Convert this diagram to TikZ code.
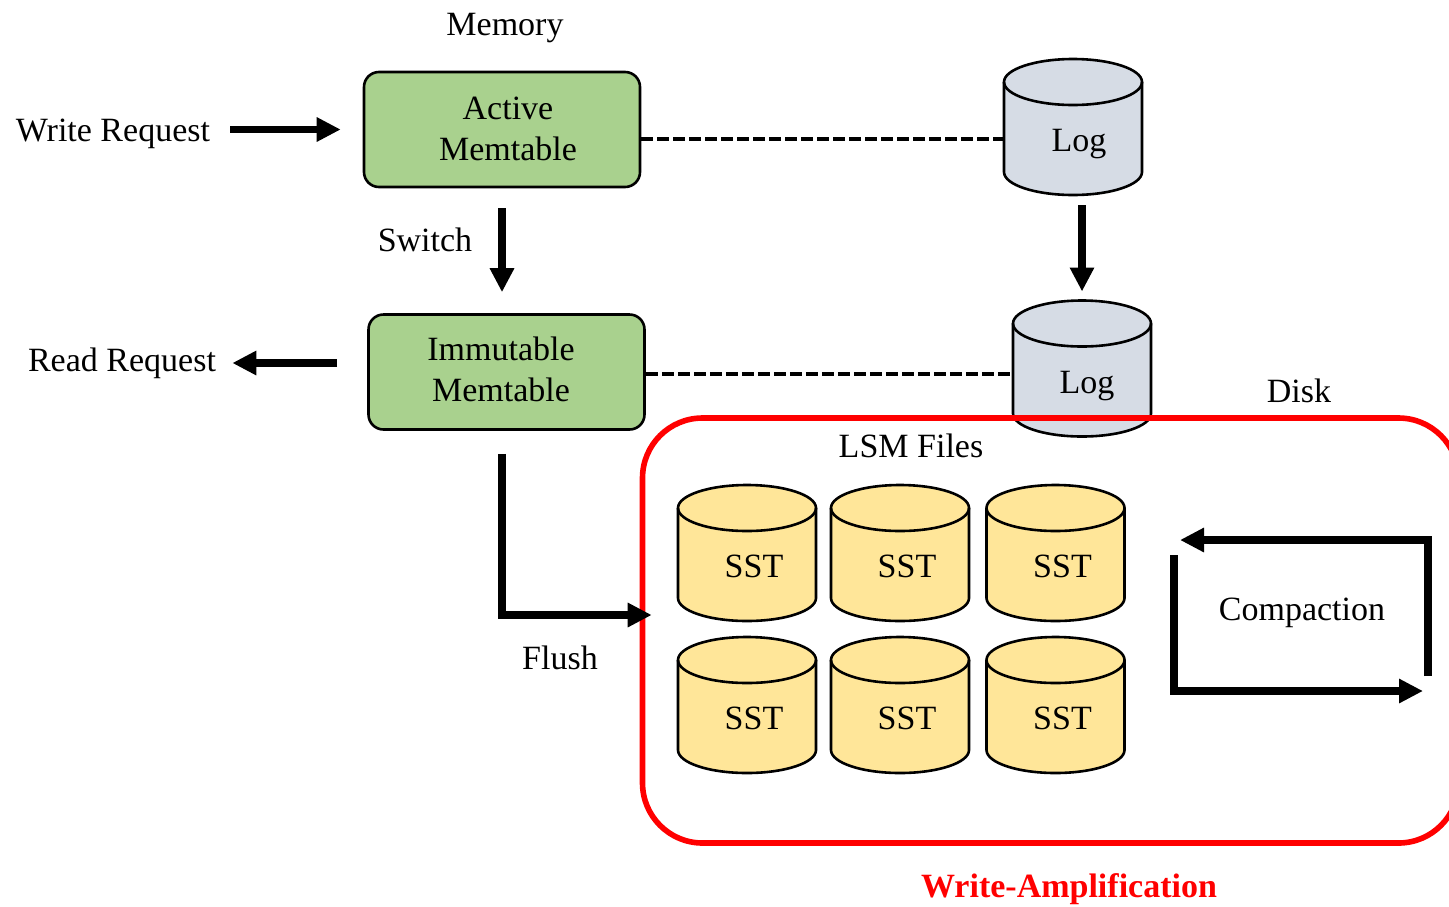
\documentclass[tikz,border=0pt]{standalone}
\usepackage{fontspec}
\setmainfont{Liberation Serif}
\usetikzlibrary{arrows.meta,calc}

\definecolor{memgreen}{HTML}{A9D18E}
\definecolor{loggray}{HTML}{D6DCE5}
\definecolor{sstyellow}{HTML}{FFE699}
\definecolor{ampred}{HTML}{FF0000}

% Outline of a drum shape around an invisible rectangular node #1, filled with #2
\newcommand\drumoutline[2]{%
  \path[fill=#2, draw=black, line width=1.3pt]
    ($(#1.north west)+(0,23)$) -- ($(#1.south west)-(0,23)$)
    arc[start angle=180, end angle=0, x radius=69, y radius=23]
    -- ($(#1.north east)+(0,23)$)
    arc[start angle=0, end angle=-180, x radius=69, y radius=23] -- cycle;
  \draw[line width=1.3pt] ($(#1.north west)+(0,23)$)
    arc[start angle=180, end angle=0, x radius=69, y radius=23];
}

\tikzset{
  lbl/.style={font=\fontsize{17}{20.5}\selectfont, inner sep=0pt, align=center},
  membox/.style={draw=black, line width=1.3pt, fill=memgreen, rounded corners=7.5pt,
    minimum width=138pt, minimum height=57.5pt, inner sep=0pt},
  drumbox/.style={minimum width=69pt, minimum height=68pt, inner sep=0pt, outer sep=0pt},
  arr/.style={line width=3.6pt, -{Triangle[length=12pt, width=11.5pt]}},
  linkline/.style={line width=1.7pt, dash pattern=on 6pt off 2pt},
}

\begin{document}
\begin{tikzpicture}[x=0.5pt, y=-0.5pt]
  \clip (0,0) rectangle (1449,906);
  \useasboundingbox (0,0) rectangle (1449,906);

  % memory side
  \node[lbl] (memlbl) at (505,28) {Memory};
  \node[membox] (active) at (502,129.5) {};
  \node[lbl] (activet) at (508,128.5) {Active\\Memtable};
  \node[membox] (immut) at (506.5,372) {};
  \node[lbl] (immutt) at (501,369) {Immutable\\Memtable};

  \node[lbl] (wreq) at (113,134) {Write Request};
  \node[lbl] (rreq) at (122,363) {Read Request};
  \node[lbl] (switchlbl) at (425,240) {Switch};
  \node[lbl] (flushlbl) at (560,658) {Flush};

  % write-ahead logs
  \node[drumbox] (log1) at (1073,127) {};
  \drumoutline{log1}{loggray}
  \node[lbl] (log1t) at (1079,144) {Log};
  \node[drumbox] (log2) at (1082,368.5) {};
  \drumoutline{log2}{loggray}
  \node[lbl] (log2t) at (1087,386) {Log};

  \node[lbl] (disklbl) at (1299,391) {Disk};

  % on-disk LSM region
  \node[draw=ampred, line width=2.8pt, rounded corners=30pt,
        minimum width=408pt, minimum height=212.5pt, inner sep=0pt]
        (disk) at (1050.5,630.5) {};
  \node[lbl] (lsmlbl) at (911,446) {LSM Files};

  \foreach \col/\cx in {a/747, b/900, c/1055.5} {
    \foreach \row/\cy in {1/553, 2/705} {
      \node[drumbox] (sst\col\row) at (\cx,\cy) {};
      \drumoutline{sst\col\row}{sstyellow}
      \node[lbl] (sst\col\row t) at ($(\cx,\cy)+(7,13)$) {SST};
    }
  }

  \node[lbl] (complbl) at (1302,613) {Compaction};
  \coordinate (ca) at (1428,676);
  \coordinate (cb) at (1180,540);
  \coordinate (cc) at (1174,555);
  \coordinate (cd) at (1423,691);

  \node[lbl, font=\fontsize{17}{20.5}\selectfont\bfseries, text=ampred]
    (wamp) at (1069,889) {Write-Amplification};

  % connectors
  \draw[arr, shorten <=10pt, shorten >=11pt] (wreq.east |- active.west) -- (active.west);
  \draw[arr, shorten <=15pt, shorten >=8pt] (rreq.east -| immut.west) -- (rreq.east);
  \draw[arr, shorten <=10pt, shorten >=10.5pt] (active.south) -- (active.south |- immut.north);
  \draw[arr, shorten <=5pt, shorten >=4.5pt] (log1.south -| log2.north) -- (log2.north);
  \draw[linkline] ([yshift=-4.75pt]active.east) -- ([yshift=-4.75pt]active.east -| log1.west);
  \draw[linkline] ([yshift=-1pt]immut.east) -- ([yshift=-1pt]immut.east -| log2.west);
  \draw[arr] ([xshift=-2.25pt, yshift=-11.5pt]immut.south) |- ([xshift=6pt, yshift=7.75pt]disk.west);
  \draw[arr] (ca) |- (cb);
  \draw[arr] (cc) |- (cd);
\end{tikzpicture}
\end{document}
